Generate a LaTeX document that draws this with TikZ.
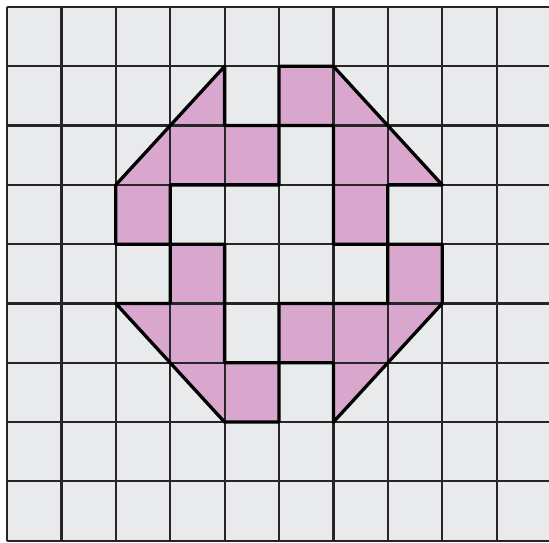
\documentclass[tikz,border=0pt]{standalone}
\definecolor{paper}{RGB}{233,234,236}
\definecolor{pinkfill}{RGB}{217,167,206}
\definecolor{gridcol}{RGB}{38,38,40}
\tikzset{
  gridline/.style={draw=gridcol, line width=2.2pt},
  outline/.style={draw=black, line width=3.3pt, line join=round, line cap=round},
  piece/.style={fill=pinkfill}
}
\begin{document}
\begin{tikzpicture}
\useasboundingbox (0,0) rectangle (549pt,543pt);
\clip (0,0) rectangle (549pt,543pt);
\fill[white] (0,0) rectangle (549pt,543pt);
\begin{scope}[shift={(7pt,536pt)}, x=54.4pt, y=-59.3pt]
  \fill[paper] (0,0) rectangle (10.3,9);
  % pink pieces
  \fill[piece] (5,1)--(6,1)--(8,3)--(7,3)--(7,4)--(6,4)--(6,2)--(5,2)--cycle;
  \fill[piece] (4,1)--(4,2)--(5,2)--(5,3)--(3,3)--(3,4)--(2,4)--(2,3)--cycle;
  \fill[piece] (3,4)--(4,4)--(4,6)--(5,6)--(5,7)--(4,7)--(2,5)--(3,5)--cycle;
  \fill[piece] (7,4)--(8,4)--(8,5)--(6,7)--(6,6)--(5,6)--(5,5)--(7,5)--cycle;
  % grid
  \foreach \i in {0,...,10} \draw[gridline] (\i,0) -- (\i,9);
  \foreach \j in {0,...,9} \draw[gridline] (0,\j) -- (10.3,\j);
  % outlines
  \draw[outline] (5,1)--(6,1)--(8,3)--(7,3)--(7,4)--(6,4)--(6,2)--(5,2)--cycle;
  \draw[outline] (4,1)--(4,2)--(5,2)--(5,3)--(3,3)--(3,4)--(2,4)--(2,3)--cycle;
  \draw[outline] (3,4)--(4,4)--(4,6)--(5,6)--(5,7)--(4,7)--(2,5)--(3,5)--cycle;
  \draw[outline] (7,4)--(8,4)--(8,5)--(6,7)--(6,6)--(5,6)--(5,5)--(7,5)--cycle;
\end{scope}
\end{tikzpicture}
\end{document}
